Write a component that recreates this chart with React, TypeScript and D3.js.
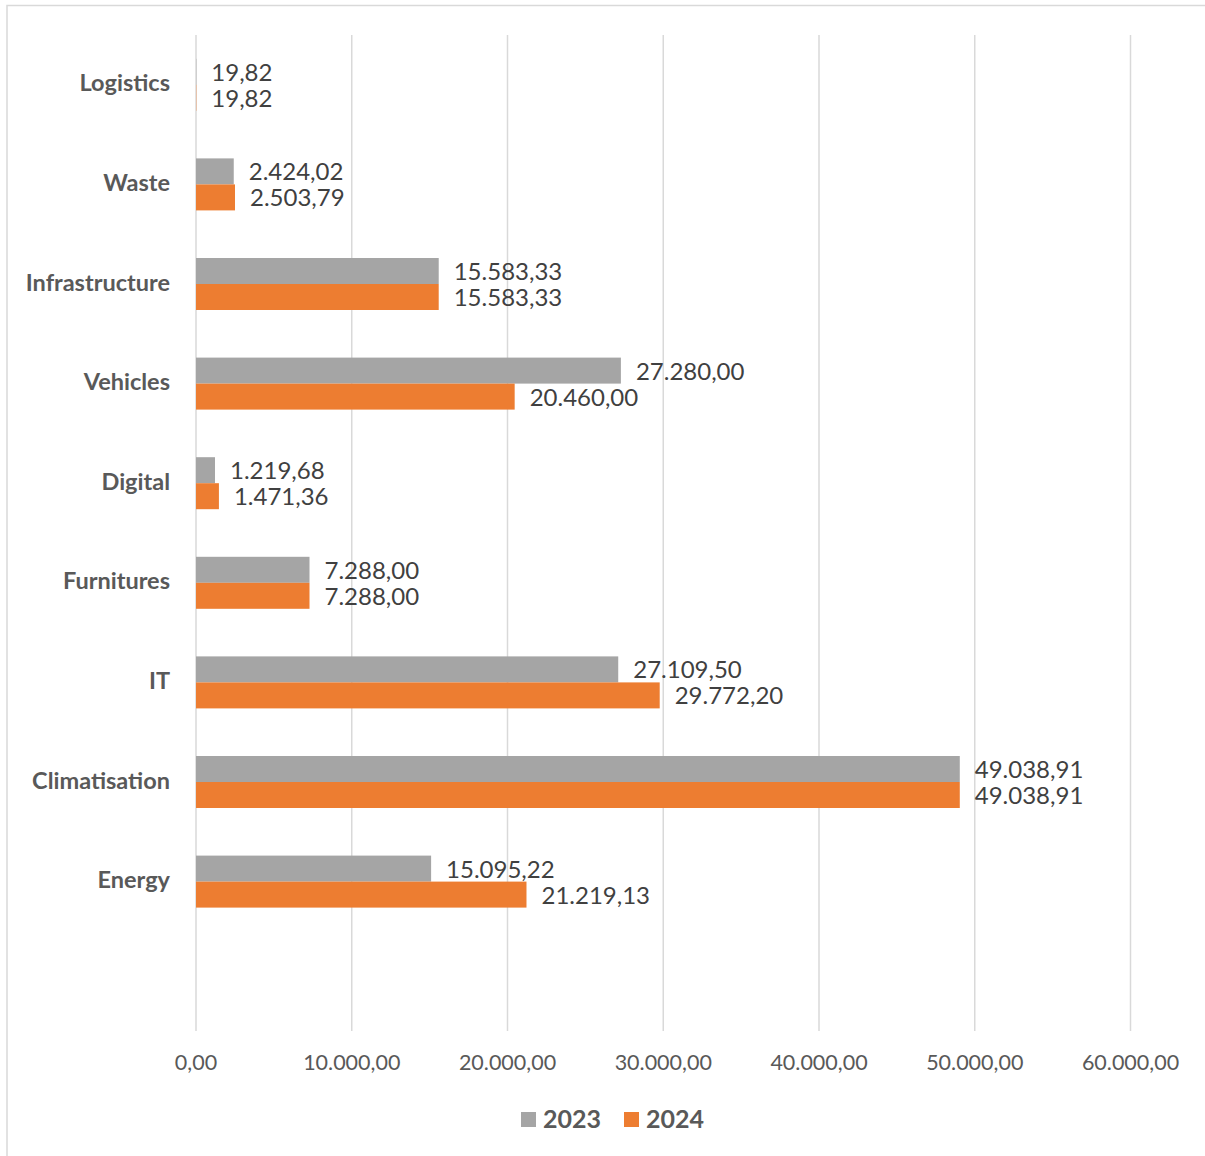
import * as d3 from "d3";

const categories = [
  "Logistics",
  "Waste",
  "Infrastructure",
  "Vehicles",
  "Digital",
  "Furnitures",
  "IT",
  "Climatisation",
  "Energy",
];
const values2023 = [19.82, 2424.02, 15583.33, 27280.0, 1219.68, 7288.0, 27109.5, 49038.91, 15095.22];
const values2024 = [19.82, 2503.79, 15583.33, 20460.0, 1471.36, 7288.0, 29772.2, 49038.91, 21219.13];
const xTicks = [0, 10000, 20000, 30000, 40000, 50000, 60000];
const seriesNames = ["2023", "2024"];

const W = 1205;
const H = 1156;
const FONT = "Lato, 'Open Sans', sans-serif";
const GRAY = "#a5a5a5";
const ORANGE = "#ed7d31";

const fmt = (v: number) =>
  v.toLocaleString("de-DE", { minimumFractionDigits: 2, maximumFractionDigits: 2 });

export default function App() {
  const x = d3.scaleLinear().domain([0, 60000]).range([196, 1130.5]);
  // Excel leaves an empty slot at the bottom of the category axis
  const y = d3.scaleBand<string>().domain([...categories, ""]).range([35, 1031]);
  const barH = 26;
  const series = [values2023, values2024];
  const colors = [GRAY, ORANGE];

  return (
    <svg
      width={W}
      height={H}
      style={{ position: "absolute", left: 0, top: 0, background: "#fff" }}
      fontFamily={FONT}
    >
      <rect x={7} y={5.5} width={W + 10} height={H + 10} fill="#fff" stroke="#d9d9d9" strokeWidth={1.5} />

      {xTicks.map((t) => (
        <g key={t}>
          <line x1={x(t)} x2={x(t)} y1={35} y2={1031} stroke="#d9d9d9" strokeWidth={1.5} />
          <text x={x(t)} y={1062} textAnchor="middle" dominantBaseline="central" fontSize={21.5} fill="#595959">
            {fmt(t)}
          </text>
        </g>
      ))}

      {categories.map((c, i) => {
        const cy = y(c)! + y.bandwidth() / 2;
        return (
          <g key={c}>
            <text
              x={170}
              y={cy - 2.5}
              textAnchor="end"
              dominantBaseline="central"
              fontSize={23.5}
              fontWeight="bold"
              fill="#595959"
            >
              {c}
            </text>
            {series.map((vals, s) => {
              const by = cy - barH + s * barH;
              return (
                <g key={s}>
                  <rect x={x(0)} y={by} width={x(vals[i]) - x(0)} height={barH} fill={colors[s]} />
                  <text
                    x={x(vals[i]) + 15}
                    y={by + barH / 2 - 0.5}
                    dominantBaseline="central"
                    fontSize={24}
                    fill="#404040"
                  >
                    {fmt(vals[i])}
                  </text>
                </g>
              );
            })}
          </g>
        );
      })}

      {seriesNames.map((n, s) => {
        const lx = s === 0 ? 521 : 624;
        return (
          <g key={n}>
            <rect x={lx} y={1112} width={15} height={15} fill={colors[s]} />
            <text x={lx + 22} y={1118} dominantBaseline="central" fontSize={25} fontWeight="bold" fill="#595959">
              {n}
            </text>
          </g>
        );
      })}
    </svg>
  );
}
